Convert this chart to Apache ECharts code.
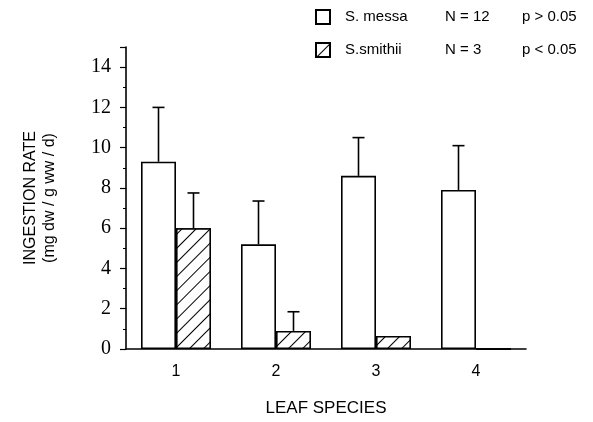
<!DOCTYPE html>
<html>
<head>
<meta charset="utf-8">
<script src="https://cdn.jsdelivr.net/npm/echarts@6/dist/echarts.min.js"></script>
<style>
    html, body { margin: 0; padding: 0; background: #fff; }
    #chart { width: 593px; height: 422px; }
</style>
</head>
<body>
<div id="chart"></div>
<script>
// leaf species on the x axis
const categories = ['1', '2', '3', '4'];
// S. messa mean ingestion rate and error (upper bar)
const messaValues = [9.3, 5.2, 8.6, 7.9];
const messaErrors = [2.7, 2.15, 1.9, 2.2];
// S. smithii mean ingestion rate and error
const smithiiValues = [6.0, 0.9, 0.65, 0];
const smithiiErrors = [1.75, 0.95, 0, 0];
// legend extra columns
const legendNames = ['S. messa', 'S.smithii'];
const legendN = ['N = 12', 'N = 3'];
const legendP = ['p > 0.05', 'p < 0.05'];

const sans = 'Liberation Sans';
const serif = 'Liberation Serif';

let myChart = echarts.init(document.getElementById('chart'), null, { renderer: 'canvas' });

// error bar: vertical line from bar top + small cap
function errorBar(values, errors, side) {
    return {
        type: 'custom',
        silent: true,
        z: 5,
        data: values.map((v, i) => [i, v, v + errors[i]]),
        renderItem(params, api) {
            const i = api.value(0);
            const top = api.value(2);
            const base = api.value(1);
            if (top <= base) return null;
            const band = api.size([1, 0])[0];
            const p0 = api.coord([i, base]);
            const p1 = api.coord([i, top]);
            const x = p0[0] + side * band * 0.175;
            const style = { stroke: '#000', lineWidth: 1.6 };
            return {
                type: 'group',
                children: [
                    { type: 'line', shape: { x1: x, y1: p0[1], x2: x, y2: p1[1] }, style },
                    { type: 'line', shape: { x1: x - 6, y1: p1[1], x2: x + 6, y2: p1[1] }, style }
                ]
            };
        }
    };
}

let option = {
    animation: false,
    grid: { left: 126, right: 67, top: 47, bottom: 73 },
    legend: {
        orient: 'vertical',
        left: 310,
        top: 4,
        icon: 'rect',
        itemWidth: 14,
        itemHeight: 14,
        itemGap: 17,
        data: legendNames,
        formatter(name) {
            const i = legendNames.indexOf(name);
            return '{a|' + name + '}{b|' + legendN[i] + '}{c|' + legendP[i] + '}';
        },
        textStyle: {
            fontFamily: sans,
            fontSize: 15,
            color: '#000',
            rich: {
                a: { width: 100, padding: [0, 0, 0, 10], fontFamily: sans, fontSize: 15 },
                b: { width: 77, fontFamily: sans, fontSize: 15 },
                c: { fontFamily: sans, fontSize: 15 }
            }
        }
    },
    xAxis: {
        type: 'category',
        data: categories,
        name: 'LEAF SPECIES',
        nameLocation: 'middle',
        nameGap: 51,
        nameTextStyle: { fontFamily: sans, fontSize: 17, color: '#000' },
        axisLine: { lineStyle: { color: '#000', width: 1.6 } },
        axisTick: { length: 4, lineStyle: { color: '#000', width: 1.2 } },
        axisLabel: { fontFamily: sans, fontSize: 16, color: '#000', margin: 15 }
    },
    yAxis: {
        type: 'value',
        min: 0,
        max: 15,
        interval: 2,
        name: 'INGESTION RATE\n(mg dw / g ww / d)',
        nameLocation: 'middle',
        nameRotate: 90,
        nameGap: 67,
        nameTextStyle: { fontFamily: sans, fontSize: 16, color: '#000', lineHeight: 19 },
        splitLine: { show: false },
        axisLine: { show: true, lineStyle: { color: '#000', width: 1.6 } },
        axisTick: { show: true, length: 6, lineStyle: { color: '#000', width: 1.2 } },
        minorTick: { show: true, splitNumber: 2, length: 3, lineStyle: { color: '#000', width: 1 } },
        axisLabel: {
            fontFamily: serif,
            fontSize: 20,
            color: '#000',
            margin: 15,
            showMaxLabel: false,
            formatter: v => (v % 2 === 0 ? String(v) : '')
        }
    },
    series: [
        {
            name: 'S. messa',
            type: 'bar',
            data: messaValues,
            barWidth: '35%',
            barGap: 0,
            itemStyle: { color: '#fff', borderColor: '#000', borderWidth: 1.6 }
        },
        {
            name: 'S.smithii',
            type: 'bar',
            data: smithiiValues,
            barWidth: '35%',
            barGap: 0,
            itemStyle: {
                color: '#fff',
                borderColor: '#000',
                borderWidth: 1.6,
                decal: {
                    symbol: 'rect',
                    symbolSize: 1,
                    color: '#000',
                    backgroundColor: '#fff',
                    dashArrayX: [1, 0],
                    dashArrayY: [1, 9],
                    rotation: -Math.PI / 4
                }
            }
        },
        errorBar(messaValues, messaErrors, -1),
        errorBar(smithiiValues, smithiiErrors, 1)
    ]
};
myChart.setOption(option);
</script>
</body>
</html>
